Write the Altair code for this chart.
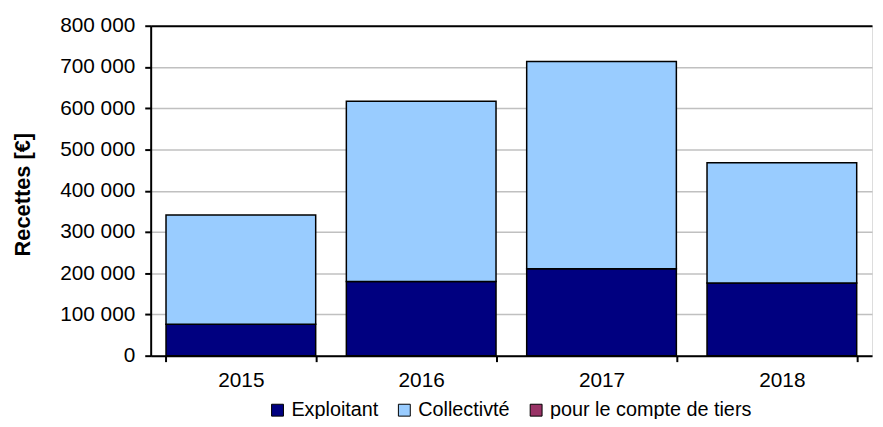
import altair as alt
import pandas as pd

years = ["2015", "2016", "2017", "2018"]
series = ["Exploitant", "Collectivté", "pour le compte de tiers"]
exploitant = [76000, 180000, 211000, 176000]
collectivite = [265000, 437000, 502000, 292000]
tiers = [0, 0, 0, 0]
colors = ["#000080", "#99CCFF", "#993366"]

rows = []
for i, y in enumerate(years):
    for k, vals in enumerate([exploitant, collectivite, tiers]):
        rows.append({"year": y, "serie": series[k], "value": vals[i], "ord": k})
df = pd.DataFrame(rows)

FONT = "Liberation Sans"

chart = alt.Chart(df).transform_filter("datum.value > 0").mark_bar(
    stroke="black", strokeWidth=1.5
).encode(
    x=alt.X("year:N", sort=years, scale=alt.Scale(paddingInner=0.17, paddingOuter=0.085),
            axis=alt.Axis(title=None, labelAngle=0, tickBand="extent", domainColor="black",
                          domainWidth=2, tickColor="black", tickWidth=2, tickSize=6,
                          labelFontSize=21, labelPadding=8, labelColor="black", labelFont=FONT)),
    y=alt.Y("value:Q", stack="zero",
            scale=alt.Scale(domain=[0, 800000], nice=False),
            axis=alt.Axis(title="Recettes [€]", values=[0, 100000, 200000, 300000, 400000, 500000, 600000, 700000, 800000],
                          labelExpr="replace(format(datum.value, ','), ',', ' ')",
                          labelFontSize=21, labelFont=FONT, labelColor="black", labelPadding=10,
                          tickSize=6, tickColor="black", tickWidth=2, domainColor="black", domainWidth=2,
                          gridColor={"condition": {"test": "datum.value === 800000", "value": "black"}, "value": "#c0c0c0"},
                          gridWidth={"condition": {"test": "datum.value === 800000", "value": 2}, "value": 1.5},
                          titleFont=FONT, titleFontSize=22, titleFontWeight="bold", titleColor="black",
                          titleX=-129, titleY=170, titleAngle=-90, titleAlign="center", titleBaseline="middle")),
    color=alt.Color("serie:N", scale=alt.Scale(domain=series, range=colors),
                    legend=alt.Legend(title=None, orient="none", legendX=118, legendY=378, direction="horizontal",
                                      symbolType="square", symbolSize=144, symbolStrokeColor="black",
                                      symbolStrokeWidth=1, labelFontSize=20, labelFont=FONT, labelColor="black",
                                      labelLimit=0, columnPadding=16, symbolOffset=0, labelOffset=4)),
    order=alt.Order("ord:Q"),
).properties(
    width=728, height=333,
    autosize=alt.AutoSizeParams(type="none"),
    padding={"left": 144, "top": 16, "right": 3, "bottom": 62},
).configure_view(stroke=None).configure(background="white")

chart.save("out.html", embed_options={"renderer": "svg", "actions": False})
